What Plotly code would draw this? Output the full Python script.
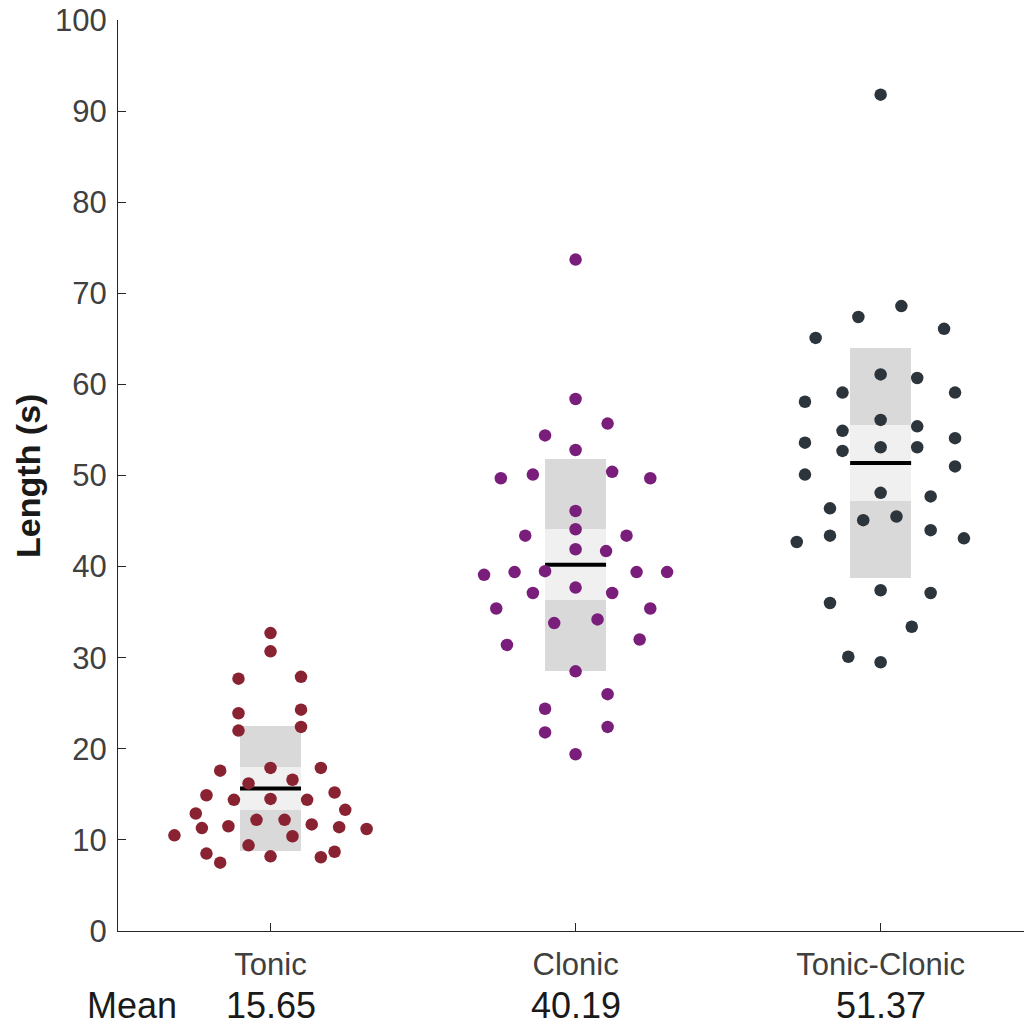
import plotly.graph_objects as go

categories = ["Tonic", "Clonic", "Tonic-Clonic"]
mean_labels = ["15.65", "40.19", "51.37"]
means = [15.65, 40.19, 51.37]
sds = [6.85, 11.6, 12.6]
cis = [2.35, 3.9, 4.2]

tonic_values = [32.7, 30.7, 27.7, 27.9, 23.9, 24.3, 22.0, 22.4, 17.6, 17.9, 17.9, 16.2,
                16.6, 14.9, 14.4, 14.5, 14.4, 15.2, 12.9, 13.3, 10.5, 11.3, 11.5, 12.2,
                12.2, 11.7, 11.4, 11.2, 10.4, 9.4, 8.5, 7.5, 8.2, 8.1, 8.7]
tonic_jitter = [0, 0, -0.105, 0.1, -0.105, 0.1, -0.105, 0.1, -0.165, 0, 0.165, -0.072,
                0.072, -0.21, -0.12, 0, 0.12, 0.21, -0.245, 0.245, -0.315, -0.225, -0.138, -0.046,
                0.046, 0.135, 0.225, 0.315, 0.072, -0.072, -0.21, -0.165, 0, 0.165, 0.21]

clonic_values = [73.7, 58.4, 55.7, 54.4, 52.8, 49.7, 50.1, 50.4, 49.7, 46.1, 44.1, 43.4,
                 43.4, 41.9, 41.7, 39.1, 39.4, 39.5, 39.4, 39.4, 37.7, 37.1, 37.1, 35.4,
                 35.4, 33.8, 34.2, 31.4, 32.0, 28.5, 26.0, 24.4, 22.4, 21.8, 19.4]
clonic_jitter = [0, 0, 0.105, -0.1, 0, -0.245, -0.14, 0.12, 0.245, 0, 0, -0.165,
                 0.167, 0, 0.1, -0.3, -0.2, -0.1, 0.2, 0.3, 0, -0.14, 0.12, -0.26,
                 0.245, -0.07, 0.072, -0.225, 0.21, 0, 0.105, -0.1, 0.105, -0.1, 0]

tc_values = [91.8, 68.6, 67.4, 65.1, 66.1, 61.1, 60.7, 58.1, 59.1, 59.1, 56.1, 55.4,
             54.9, 53.6, 54.1, 52.7, 53.1, 53.1, 50.1, 51.0, 48.1, 47.7, 46.4, 45.1,
             45.5, 43.4, 44.0, 42.7, 43.1, 37.4, 37.1, 36.0, 33.4, 30.1, 29.5]
tc_jitter = [0, 0.068, -0.073, -0.213, 0.208, 0, 0.12, -0.248, -0.125, 0.244, 0, 0.12,
             -0.125, -0.248, 0.244, -0.125, 0, 0.12, -0.248, 0.244, 0, 0.164, -0.166, -0.057,
             0.052, -0.166, 0.164, -0.275, 0.273, 0, 0.164, -0.166, 0.102, -0.106, 0]

colors = ["#8A2331", "#7A1E7C", "#2C343C"]
groups = [tonic_values, clonic_values, tc_values]
jitters = [tonic_jitter, clonic_jitter, tc_jitter]
positions = [1, 2, 3]
box_width = 0.2

fig = go.Figure()

# SD patches (dark grey)
fig.add_trace(go.Bar(
    x=positions, y=[2 * s for s in sds], base=[m - s for m, s in zip(means, sds)],
    width=box_width, marker=dict(color="#D9D9D9", line=dict(width=0)),
    showlegend=False, hoverinfo="skip"))
# CI patches (light grey)
fig.add_trace(go.Bar(
    x=positions, y=[2 * c for c in cis], base=[m - c for m, c in zip(means, cis)],
    width=box_width, marker=dict(color="#F0F0F0", line=dict(width=0)),
    showlegend=False, hoverinfo="skip"))

# mean lines
for p, m in zip(positions, means):
    fig.add_trace(go.Scatter(
        x=[p - box_width / 2, p + box_width / 2], y=[m, m], mode="lines",
        line=dict(color="black", width=4), showlegend=False, hoverinfo="skip"))

# points
for p, vals, jit, col in zip(positions, groups, jitters, colors):
    fig.add_trace(go.Scatter(
        x=[p + j for j in jit], y=vals, mode="markers",
        marker=dict(color=col, size=12.5, line=dict(width=0)),
        showlegend=False))

font_family = "Arial, Liberation Sans, Helvetica, sans-serif"

fig.update_layout(
    width=1024, height=1031,
    margin=dict(l=118, r=0, t=20, b=100, autoexpand=False),
    paper_bgcolor="white", plot_bgcolor="white",
    barmode="overlay", bargap=0,
    font=dict(family=font_family, size=31, color="#404040"),
    xaxis=dict(
        range=[0.5, 3.47], tickvals=positions, ticktext=categories, automargin=False,
        showgrid=False, zeroline=False, showline=True, linecolor="#262626", linewidth=1,
        ticks="inside", ticklen=8, tickcolor="#262626", tickfont=dict(size=31, color="#404040"),
        ticklabelstandoff=6, ticklabeloverflow="allow"),
    yaxis=dict(
        range=[0, 100], tickvals=list(range(0, 101, 10)), automargin=False,
        showgrid=False, zeroline=False, showline=True, linecolor="#262626", linewidth=1,
        ticks="inside", ticklen=8, tickcolor="#262626", tickfont=dict(size=31, color="#404040"),
        ticklabelstandoff=4, ticklabeloverflow="allow"),
)

# y-axis title
fig.add_annotation(
    text="<b>Length (s)</b>", xref="paper", yref="paper", x=-0.1, y=0.5,
    textangle=-90, showarrow=False, font=dict(size=34, color="#1a1a1a"),
    xanchor="center", yanchor="middle")

# Mean row
fig.add_annotation(
    text="Mean", xref="x", yref="paper", x=0.545, y=-0.082, showarrow=False,
    font=dict(size=36, color="#1a1a1a"), xanchor="center", yanchor="middle")
for p, lab in zip(positions, mean_labels):
    fig.add_annotation(
        text=lab, xref="x", yref="paper", x=p, y=-0.082, showarrow=False,
        font=dict(size=36, color="#1a1a1a"), xanchor="center", yanchor="middle")

fig.write_html("out.html", config={"displayModeBar": False},
               post_script="document.body.style.margin='0';document.body.style.overflow='hidden';")
